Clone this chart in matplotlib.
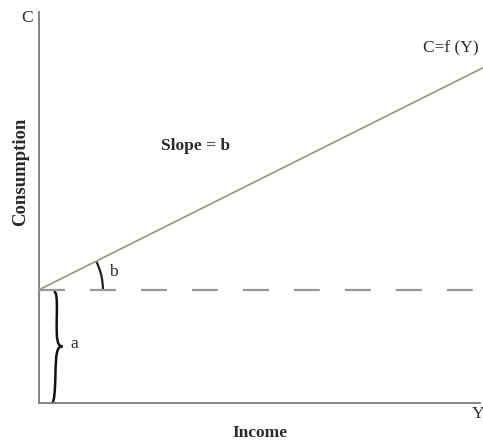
import numpy as np
import matplotlib
matplotlib.use("Agg")
import matplotlib.pyplot as plt
from matplotlib.patches import Arc, PathPatch
from matplotlib.path import Path

plt.rcParams['lines.scale_dashes'] = False
SERIF = ['Liberation Serif', 'DejaVu Serif']

# Data: Keynesian consumption function C = a + bY
income = [0, 100]          # Y range
a = 25.5                   # autonomous consumption
b = 0.5                    # marginal propensity to consume (slope)
consumption = [a + b * y for y in income]

W, H = 483, 441
fig = plt.figure(figsize=(W / 100, H / 100), dpi=100)
x0px, y0px, x1px, y1px = 39, 403, 483, 12
ax = fig.add_axes([x0px / W, (H - y0px) / H, (x1px - x0px) / W, (y0px - y1px) / H])
scale = (x1px - x0px) / 100.0
ax.set_xlim(0, 100)
ax.set_ylim(0, (y0px - y1px) / scale)
ax.axis('off')

axis_col = '#7a7a7a'
# axes
ax.plot([0, 0], [0, (y0px - y1px) / scale], color=axis_col, lw=1.3, clip_on=False)
ax.plot([0, 99.3], [0, 0], color=axis_col, lw=1.3, clip_on=False)

# consumption line
ax.plot(income, consumption, color='#a39d86', lw=1.3, clip_on=False)
# dashed horizontal at a
ax.plot(income, [a, a], color='#999999', lw=1.6, dashes=(18.7, 18.0), clip_on=False)

# angle arc
r = 14.4
ax.add_patch(Arc((0, a), 2 * r, 2 * r, theta1=0, theta2=np.degrees(np.arctan(b)),
                 color='#222222', lw=1.6))

# curly brace from 0 to a
xb, w = 3.9, 1.4
top, bot, mid = a - 0.4, 0.0, a / 2
q1, q2 = (top + mid) / 2, (bot + mid) / 2
verts = [(xb - 0.6, top),
         (xb + 0.1, top), (xb + 0.2, top - 1.5), (xb + 0.1, q1),
         (xb, mid + 1.5), (xb + 0.2, mid), (xb + w, mid),
         (xb + 0.1, mid), (xb - 0.1, mid - 1.5), (xb - 0.2, q2),
         (xb - 0.3, bot + 2.0), (xb - 0.5, bot + 0.5), (xb - 0.9, bot)]
codes = [Path.MOVETO] + [Path.CURVE4] * 12
ax.add_patch(PathPatch(Path(verts, codes), fill=False, color='#111111', lw=1.8,
                       clip_on=False))

tc = '#2a2a2a'
def px(xp, yp):
    return (xp - x0px) / scale, (y0px - yp) / scale

ax.text(*px(27, 18), 'C', family=SERIF, fontsize=12.5, color=tc, ha='center', va='center')
ax.text(*px(478, 414), 'Y', family=SERIF, fontsize=12.5, color=tc, ha='center', va='center')
ax.text(*px(451, 48), 'C=f (Y)', family=SERIF, fontsize=12.5, color=tc, ha='center', va='center')
ax.text(*px(196, 146), 'Slope = b', family=SERIF, fontsize=12.5, fontweight='bold', color=tc,
        ha='center', va='center')
ax.text(*px(113, 272), 'b', family=SERIF, fontsize=12.5, color=tc, ha='center', va='center')
ax.text(*px(74, 344), 'a', family=SERIF, fontsize=12.5, color=tc, ha='center', va='center')
ax.text(*px(260, 433), 'Income', family=SERIF, fontsize=12.5, fontweight='bold', color=tc,
        ha='center', va='center')
ax.text(*px(21, 172), 'Consumption', family=SERIF, fontsize=13.5, fontweight='bold', color=tc,
        ha='center', va='center', rotation=90)

fig.savefig('out.png', dpi=100)
